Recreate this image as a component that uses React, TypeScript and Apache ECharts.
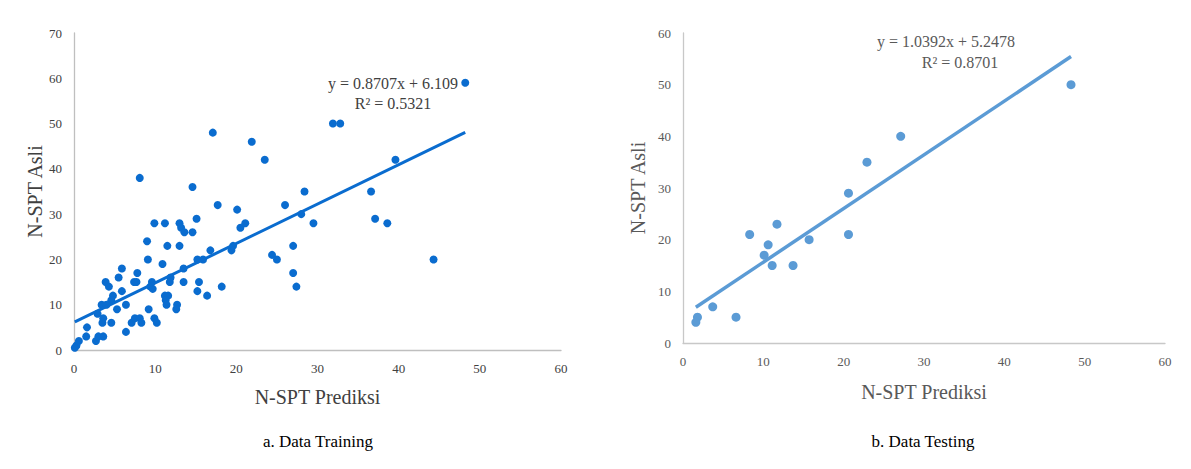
import React, { useEffect, useRef } from "react";
import * as echarts from "echarts";

// Data Training (N-SPT Prediksi, N-SPT Asli)
const trainX = [48.2, 31.9, 32.8, 17.1, 21.9, 23.5, 39.6, 8.1, 14.6, 28.4, 36.6, 17.7, 26.0, 20.1, 28.0, 29.5, 37.1, 38.6, 9.9, 11.2, 13.0, 13.2, 13.6, 15.1, 14.6, 20.5, 21.1, 9.0, 11.5, 13.0, 9.1, 10.9, 5.9, 5.5, 7.8, 7.7, 7.4, 3.9, 4.3, 5.9, 4.8, 4.6, 3.4, 4.0, 6.4, 5.3, 2.9, 3.6, 3.5, 4.6, 6.4, 7.1, 7.5, 8.1, 8.3, 9.2, 9.9, 10.2, 9.4, 9.7, 9.6, 11.8, 11.9, 11.2, 11.6, 11.3, 11.4, 12.7, 12.6, 13.5, 13.5, 15.2, 15.9, 16.8, 15.4, 15.2, 16.4, 18.2, 19.4, 19.6, 24.4, 25.0, 27.0, 27.0, 27.4, 44.3, 0.3, 0.6, 0.1, 1.6, 1.5, 2.7, 3.0, 3.6];
const trainY = [59, 50, 50, 48, 46, 42, 42, 38, 36, 35, 35, 32, 32, 31, 30, 28, 29, 28, 28, 28, 28, 27, 26, 29, 26, 27, 28, 24, 23, 23, 20, 19, 18, 16, 17, 15, 15, 15, 14, 13, 12, 11, 10, 10, 10, 9, 8, 7, 6, 6, 4, 6, 7, 7, 6, 9, 7, 6, 14, 13.5, 15, 15, 16, 12, 12, 11, 10, 10, 9, 15, 18, 20, 20, 22, 15, 13, 12, 14, 22, 23, 21, 20, 23, 17, 14, 20, 1, 2, 0.5, 5, 3, 2, 3, 3];

// Data Testing
const testX = [48.3, 27.1, 22.9, 20.6, 20.6, 15.7, 13.7, 11.7, 10.6, 10.1, 11.1, 8.3, 6.6, 3.7, 1.8, 1.6];
const testY = [50, 40, 35, 29, 21, 20, 15, 23, 19, 17, 15, 21, 5, 7, 5, 4];

const trainSlope = 0.8707;
const trainIntercept = 6.109;
const testSlope = 1.0392;
const testIntercept = 5.2478;

const xTicks = [0, 10, 20, 30, 40, 50, 60];

const FONT = "'Liberation Serif', 'Times New Roman', serif";
const TRAIN_COLOR = "#0A6CCF";
const TEST_COLOR = "#5B9BD5";

function trend(xs: number[], m: number, b: number) {
  const lo = Math.min(...xs);
  const hi = Math.max(...xs);
  return [
    [lo, m * lo + b],
    [hi, m * hi + b],
  ];
}

export default function App() {
  const ref = useRef<HTMLDivElement>(null);
  useEffect(() => {
    if (!ref.current) return;
    const chart = echarts.init(ref.current, undefined, { renderer: "svg" });
    const axisCommon = (color: string, lineColor: string) => ({
      axisLine: { show: true, lineStyle: { color: lineColor, width: 1.3 } },
      axisTick: { show: false },
      splitLine: { show: false },
      axisLabel: { color, fontFamily: FONT, fontSize: 13, margin: 12 },
      nameTextStyle: { color, fontFamily: FONT, fontSize: 20 },
    });
    chart.setOption({
      animation: false,
      backgroundColor: "#ffffff",
      grid: [
        { left: 74, top: 33, width: 487, height: 317 },
        { left: 683, top: 33, width: 482, height: 310 },
      ],
      xAxis: [
        {
          type: "value",
          gridIndex: 0,
          min: xTicks[0],
          max: xTicks[xTicks.length - 1],
          interval: 10,
          name: "N-SPT Prediksi",
          nameLocation: "middle",
          nameGap: 37,
          ...axisCommon("#404040", "#bfbfbf"),
        },
        {
          type: "value",
          gridIndex: 1,
          min: xTicks[0],
          max: xTicks[xTicks.length - 1],
          interval: 10,
          name: "N-SPT Prediksi",
          nameLocation: "middle",
          nameGap: 39,
          ...axisCommon("#595959", "#c8c8c8"),
        },
      ],
      yAxis: [
        {
          type: "value",
          gridIndex: 0,
          min: 0,
          max: 70,
          interval: 10,
          name: "N-SPT Asli",
          nameLocation: "middle",
          nameGap: 29,
          ...axisCommon("#404040", "#bfbfbf"),
        },
        {
          type: "value",
          gridIndex: 1,
          min: 0,
          max: 60,
          interval: 10,
          name: "N-SPT Asli",
          nameLocation: "middle",
          nameGap: 35,
          ...axisCommon("#595959", "#c8c8c8"),
        },
      ],
      series: [
        {
          type: "line",
          xAxisIndex: 0,
          yAxisIndex: 0,
          data: trend(trainX, trainSlope, trainIntercept),
          symbol: "none",
          lineStyle: { color: TRAIN_COLOR, width: 3 },
          silent: true,
        },
        {
          type: "scatter",
          xAxisIndex: 0,
          yAxisIndex: 0,
          data: trainX.map((x, i) => [x, trainY[i]]),
          symbolSize: 8,
          itemStyle: { color: TRAIN_COLOR, opacity: 1 },
        },
        {
          type: "line",
          xAxisIndex: 1,
          yAxisIndex: 1,
          data: trend(testX, testSlope, testIntercept),
          symbol: "none",
          lineStyle: { color: TEST_COLOR, width: 3.5 },
          silent: true,
        },
        {
          type: "scatter",
          xAxisIndex: 1,
          yAxisIndex: 1,
          data: testX.map((x, i) => [x, testY[i]]),
          symbolSize: 9,
          itemStyle: { color: TEST_COLOR, opacity: 1 },
        },
      ],
      graphic: [
        {
          type: "text",
          x: 393,
          y: 83,
          style: { text: "y = 0.8707x + 6.109", fill: "#404040", font: `16px ${FONT}`, align: "center", verticalAlign: "middle" },
        },
        {
          type: "text",
          x: 393,
          y: 103,
          style: { text: "R² = 0.5321", fill: "#404040", font: `16px ${FONT}`, align: "center", verticalAlign: "middle" },
        },
        {
          type: "text",
          x: 946,
          y: 41,
          style: { text: "y = 1.0392x + 5.2478", fill: "#595959", font: `16px ${FONT}`, align: "center", verticalAlign: "middle" },
        },
        {
          type: "text",
          x: 960,
          y: 62,
          style: { text: "R² = 0.8701", fill: "#595959", font: `16px ${FONT}`, align: "center", verticalAlign: "middle" },
        },
        {
          type: "text",
          x: 318,
          y: 441,
          style: { text: "a. Data Training", fill: "#000000", font: `17px ${FONT}`, align: "center", verticalAlign: "middle" },
        },
        {
          type: "text",
          x: 923,
          y: 441,
          style: { text: "b. Data Testing", fill: "#000000", font: `17px ${FONT}`, align: "center", verticalAlign: "middle" },
        },
      ],
    });
    return () => chart.dispose();
  }, []);
  return (
    <div
      ref={ref}
      style={{ position: "fixed", left: 0, top: 0, width: 1191, height: 469, background: "#fff" }}
    />
  );
}
